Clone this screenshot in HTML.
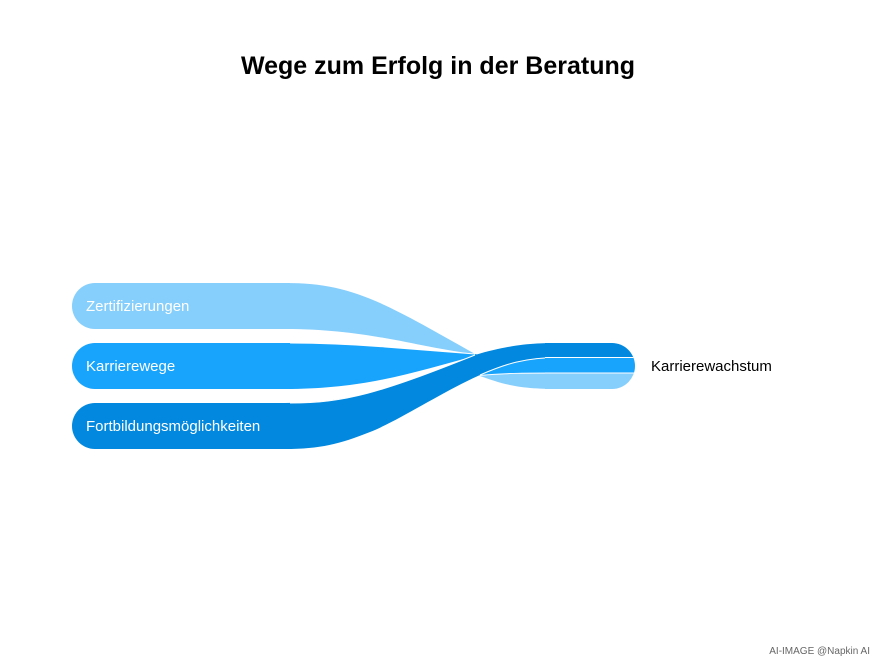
<!DOCTYPE html>
<html><head><meta charset="utf-8"><style>
body{margin:0;background:#fff;}
svg{display:block;font-family:"Liberation Sans",Arial,sans-serif;}
</style></head><body>
<svg width="877" height="660" viewBox="0 0 877 660" xmlns="http://www.w3.org/2000/svg">
<defs>
<clipPath id="rc"><path d="M545,343 H612 A23,23 0 0 1 612,389 H545 Z"/></clipPath>
</defs>
<text x="438" y="74" text-anchor="middle" font-size="25" font-weight="bold" fill="#000">Wege zum Erfolg in der Beratung</text>
<!-- ribbons -->
<path d="M285,283 C350,283 380,300 475,354 C500,368 520,373 560,373 L560,389 C520,389 505,385 480,376 L475,354 C420,348 370,329 285,329 Z" fill="#86CEFC"/>
<path d="M285,343 C330,343 360,345 385,347 L475,354 C505,360 530,357 560,357 L560,373 C520,373 500,374 480,376 L475,356 C420,370 370,389 285,389 Z" fill="#18A3FC"/>
<path d="M290,343 C330,343 360,345 385,347 L475,354" fill="none" stroke="#fff" stroke-width="1"/>
<path d="M480,375.5 C505,373 530,373 560,373" fill="none" stroke="#fff" stroke-width="1"/>
<path d="M285,403 C345,403 380,393 475,355 C515,343 540,343 560,343 L560,357 C525,357 505,364 480,375 C440,393 400,420 370,432 C340,444 320,449 285,449 Z" fill="#0288DE"/>
<path d="M290,403 C345,403 380,393 475,355" fill="none" stroke="#fff" stroke-width="1"/>
<path d="M480,375 C505,364 525,357.5 560,357.5" fill="none" stroke="#fff" stroke-width="1"/>
<!-- left bars -->
<path d="M95,283 H290 V329 H95 A23,23 0 0 1 95,283 Z" fill="#86CEFC"/>
<path d="M95,343 H290 V389 H95 A23,23 0 0 1 95,343 Z" fill="#18A3FC"/>
<path d="M95,403 H290 V449 H95 A23,23 0 0 1 95,403 Z" fill="#0288DE"/>
<g clip-path="url(#rc)">
<rect x="540" y="343" width="100" height="14.5" fill="#0288DE"/>
<rect x="540" y="357.5" width="100" height="15.5" fill="#18A3FC"/>
<rect x="540" y="373" width="100" height="16" fill="#86CEFC"/>
<line x1="540" y1="357.5" x2="640" y2="357.5" stroke="#fff" stroke-width="1"/>
<line x1="540" y1="373" x2="640" y2="373" stroke="#fff" stroke-width="1"/>
</g>
<text x="86" y="311" font-size="15" fill="#fff">Zertifizierungen</text>
<text x="86" y="371" font-size="15" fill="#fff">Karrierewege</text>
<text x="86" y="431" font-size="15" fill="#fff">Fortbildungsmöglichkeiten</text>
<text x="651" y="371" font-size="15" fill="#000">Karrierewachstum</text>
<text x="870" y="654" text-anchor="end" font-size="10" fill="#666">AI-IMAGE  @Napkin AI</text>
</svg>
</body></html>
